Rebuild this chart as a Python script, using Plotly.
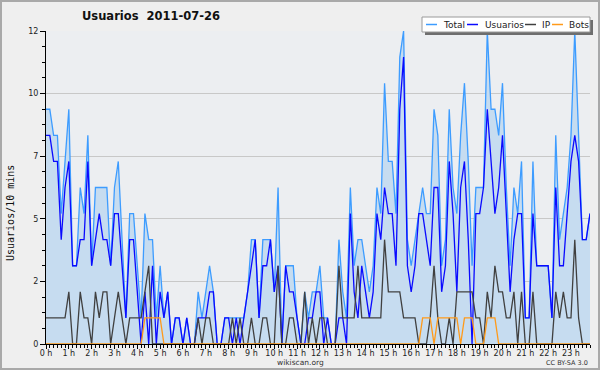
import plotly.graph_objects as go

# ---------------- data (10-minute slots, 144 per day) ----------------
slot_hours = [i / 6 for i in range(144)]

total = [9, 9, 8, 8, 5, 7, 9, 3, 3, 6, 5, 8, 3, 6, 6, 6, 6, 3, 6, 7, 4, 1, 5, 5,
         3, 1, 5, 4, 4, 1, 3, 1, 2, 0, 1, 1, 0, 1, 0, 0, 2, 1, 2, 3, 2, 0, 0, 1,
         1, 1, 1, 1, 1, 2, 4, 4, 1, 4, 4, 4, 2, 6, 0, 3, 3, 3, 1, 0, 2, 1, 2, 2,
         3, 1, 1, 0, 0, 4, 2, 1, 6, 3, 4, 4, 3, 2, 3, 6, 5, 10, 7, 7, 5, 11, 12, 4,
         3, 4, 5, 6, 5, 5, 9, 8, 3, 4, 9, 6, 5, 8, 10, 7, 3, 6, 6, 6, 12, 9, 9, 8,
         10, 6, 3, 6, 5, 7, 1, 1, 7, 3, 3, 3, 3, 1, 8, 4, 5, 6, 8, 12, 8, 4, 4, 5]

usuarios = [8, 8, 7, 7, 4, 6, 7, 3, 3, 4, 4, 7, 3, 4, 5, 4, 4, 3, 5, 5, 3, 1, 4, 4,
            2, 0, 2, 0, 3, 0, 2, 1, 2, 0, 1, 1, 0, 1, 0, 0, 1, 1, 1, 2, 2, 0, 0, 1,
            1, 0, 1, 0, 1, 2, 3, 4, 1, 3, 3, 4, 2, 3, 0, 3, 2, 2, 1, 0, 0, 1, 1, 2,
            2, 0, 1, 0, 0, 1, 1, 0, 5, 2, 1, 3, 2, 1, 2, 5, 4, 6, 5, 5, 3, 9, 11, 3,
            2, 3, 5, 5, 4, 3, 6, 6, 2, 3, 7, 5, 2, 6, 7, 4, 0, 5, 5, 6, 9, 7, 5, 6,
            8, 5, 2, 4, 5, 5, 1, 1, 5, 3, 3, 3, 3, 1, 6, 3, 3, 5, 7, 8, 7, 4, 4, 5]

ip = [1, 1, 1, 1, 1, 1, 2, 0, 0, 2, 1, 1, 0, 2, 1, 2, 2, 0, 1, 2, 1, 0, 1, 1,
      1, 1, 2, 3, 0, 0, 0, 0, 0, 0, 0, 0, 0, 0, 0, 0, 1, 0, 1, 1, 0, 0, 0, 0,
      0, 1, 0, 1, 0, 0, 1, 0, 0, 1, 1, 0, 0, 3, 0, 0, 1, 1, 0, 0, 2, 0, 1, 0,
      1, 1, 0, 0, 0, 3, 1, 1, 1, 1, 3, 1, 1, 1, 1, 1, 1, 4, 2, 2, 2, 2, 1, 1,
      1, 1, 0, 0, 0, 1, 3, 1, 0, 0, 1, 0, 2, 2, 2, 2, 2, 1, 1, 0, 2, 1, 3, 2,
      2, 1, 1, 2, 0, 2, 0, 0, 2, 0, 0, 0, 0, 0, 2, 1, 2, 1, 1, 4, 1, 0, 0, 0]

bots = [0, 0, 0, 0, 0, 0, 0, 0, 0, 0, 0, 0, 0, 0, 0, 0, 0, 0, 0, 0, 0, 0, 0, 0,
        0, 0, 1, 1, 1, 1, 1, 0, 0, 0, 0, 0, 0, 0, 0, 0, 0, 0, 0, 0, 0, 0, 0, 0,
        0, 0, 0, 0, 0, 0, 0, 0, 0, 0, 0, 0, 0, 0, 0, 0, 0, 0, 0, 0, 0, 0, 0, 0,
        0, 0, 0, 0, 0, 0, 0, 0, 0, 0, 0, 0, 0, 0, 0, 0, 0, 0, 0, 0, 0, 0, 0, 0,
        0, 0, 0, 1, 1, 1, 0, 1, 1, 1, 1, 1, 1, 0, 1, 1, 1, 0, 0, 0, 1, 1, 1, 0,
        0, 0, 0, 0, 0, 0, 0, 0, 0, 0, 0, 0, 0, 0, 0, 0, 0, 0, 0, 0, 0, 0, 0, 0]

x_tick_vals = list(range(24))
x_tick_labels = ["0 h", "1 h", "2 h", "3 h", "4 h", "5 h", "6 h", "7 h", "8 h",
                 "9 h", "10 h", "11 h", "12 h", "13 h", "14 h", "15 h", "16 h",
                 "17 h", "18 h", "19 h", "20 h", "21 h", "22 h", "23 h"]
y_tick_vals = [0, 2.4, 4.8, 7.2, 9.6, 12]
y_tick_labels = ["0", "2", "5", "7", "10", "12"]

series_names = ["Total", "Usuarios", "IP", "Bots"]
series_colors = ["#3d9cff", "#0a0aff", "#404040", "#ff9a1a"]

# ---------------- layout geometry (pixels) ----------------
W, H = 600, 370
ML, MR, MT, MB = 46, 10, 31, 26
PW, PH = W - ML - MR, H - MT - MB


def px(xp):
    return (xp - ML) / PW


def py(yp):
    return (H - MB - yp) / PH


FONT = "DejaVu Sans"

fig = go.Figure()
series = [total, usuarios, ip, bots]
for k, (name, col, vals) in enumerate(zip(series_names, series_colors, series)):
    fig.add_trace(go.Scatter(
        x=slot_hours, y=vals, name=name, mode="lines",
        line=dict(color=col, width=1.3),
        fill="tozeroy" if k == 0 else None,
        fillcolor="#c6dcf0" if k == 0 else None,
        hoverinfo="skip",
    ))

shapes = []
annotations = []

# outer frame
shapes.append(dict(type="rect", xref="paper", yref="paper",
                   x0=px(1), x1=px(W - 1), y0=py(H - 1), y1=py(1),
                   line=dict(color="#a9a9a9", width=2), fillcolor="rgba(0,0,0,0)",
                   layer="below"))

# legend (drawn manually to match the compact original)
shapes.append(dict(type="rect", xref="paper", yref="paper",
                   x0=px(425), x1=px(593), y0=py(35), y1=py(20),
                   line=dict(width=0), fillcolor="#6e6e6e", layer="above"))
shapes.append(dict(type="rect", xref="paper", yref="paper",
                   x0=px(422), x1=px(590), y0=py(32), y1=py(17),
                   line=dict(color="#9a9a9a", width=1), fillcolor="#ffffff",
                   layer="above"))
leg_line_x = [426, 467, 525, 552]
leg_text_x = [441, 483, 540, 567]
for name, col, lx, tx in zip(series_names, series_colors, leg_line_x, leg_text_x):
    shapes.append(dict(type="line", xref="paper", yref="paper",
                       x0=px(lx), x1=px(lx + 11), y0=py(24.5), y1=py(24.5),
                       line=dict(color=col, width=1.5), layer="above"))
    annotations.append(dict(text=name, xref="paper", yref="paper",
                            x=px(tx), y=py(24.5), xanchor="left", yanchor="middle",
                            showarrow=False,
                            font=dict(family=FONT, size=9, color="#222222")))

# title
annotations.append(dict(text="<b>Usuarios\u00a0\u00a02011-07-26</b>", xref="paper",
                        yref="paper", x=px(151), y=py(16), xanchor="center",
                        yanchor="middle", showarrow=False,
                        font=dict(family=FONT, size=11.5, color="#111111")))
# y axis title
annotations.append(dict(text="Usuarios/10 mins", xref="paper", yref="paper",
                        x=px(10), y=py(213), xanchor="center", yanchor="middle",
                        textangle=-90, showarrow=False,
                        font=dict(family="DejaVu Sans Mono", size=10, color="#111111")))
# footer
annotations.append(dict(text="wikiscan.org", xref="paper", yref="paper",
                        x=px(300), y=py(362.5), xanchor="center", yanchor="middle",
                        showarrow=False,
                        font=dict(family=FONT, size=7.5, color="#333333")))
annotations.append(dict(text="CC BY-SA 3.0", xref="paper", yref="paper",
                        x=px(590), y=py(363), xanchor="right", yanchor="middle",
                        showarrow=False,
                        font=dict(family=FONT, size=6.5, color="#333333")))

fig.update_layout(
    width=W, height=H,
    margin=dict(l=ML, r=MR, t=MT, b=MB, pad=0),
    paper_bgcolor="#efefef",
    plot_bgcolor="#eceef1",
    showlegend=False,
    shapes=shapes,
    annotations=annotations,
    xaxis=dict(
        range=[0, slot_hours[-1]], showgrid=False, zeroline=False,
        showline=True, linecolor="#000000", linewidth=1,
        ticks="outside", ticklen=4, tickwidth=1, tickcolor="#000000",
        tickmode="array", tickvals=x_tick_vals, ticktext=x_tick_labels,
        tickfont=dict(family=FONT, size=8, color="#222222"),
        ticklabelstandoff=-3,
        minor=dict(tickmode="linear", tick0=0, dtick=1 / 6, ticks="outside",
                   ticklen=3, tickcolor="#000000", showgrid=False),
        automargin=False, fixedrange=True,
    ),
    yaxis=dict(
        range=[0, 12], zeroline=False,
        showgrid=True, gridcolor="#c8c8c8", gridwidth=1,
        showline=True, linecolor="#000000", linewidth=1,
        ticks="outside", ticklen=5, tickwidth=1, tickcolor="#000000",
        tickmode="array", tickvals=y_tick_vals, ticktext=y_tick_labels,
        tickfont=dict(family=FONT, size=8, color="#222222"),
        minor=dict(tickmode="linear", tick0=0, dtick=0.6, ticks="outside",
                   ticklen=3, tickcolor="#000000", showgrid=False),
        automargin=False, fixedrange=True,
    ),
)

fig.write_html("out.html", config={"displayModeBar": False},
               post_script="document.body.style.margin='0px';document.body.style.overflow='hidden';")
